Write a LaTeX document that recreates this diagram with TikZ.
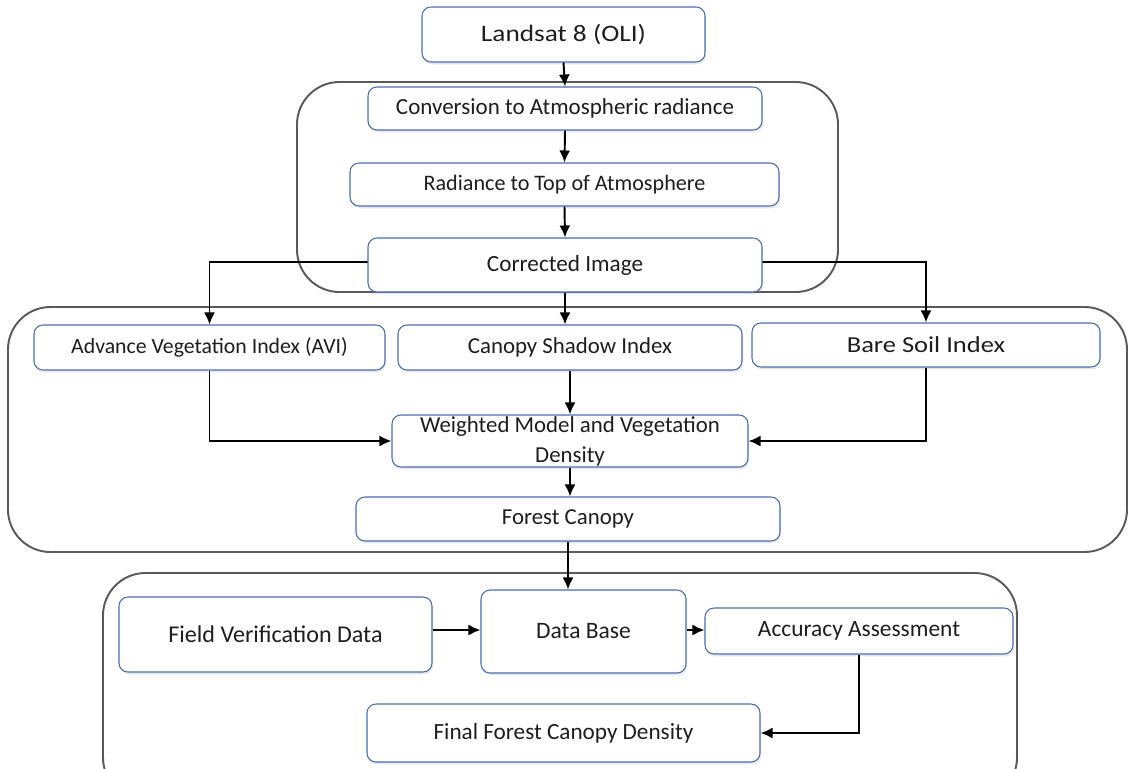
\documentclass[tikz,border=0pt]{standalone}
\usepackage{fontspec}
\setmainfont{Carlito}
\newfontfamily\widefont[FakeStretch=1.16]{Carlito}
\usetikzlibrary{arrows.meta,calc,shadows}
\definecolor{boxblue}{HTML}{4A6DB0}
\definecolor{grpgray}{HTML}{5A5A5A}
\definecolor{txt}{HTML}{1E1E1E}
\newcommand{\fs}[1]{\fontsize{#1}{17}\selectfont}
% \bx[options]{name}{x1}{y1}{x2}{y2}{text}
\newcommand{\bx}[7][]{%
  \pgfmathsetmacro{\bxw}{(#5-#3)*0.02}%
  \pgfmathsetmacro{\bxh}{(#6-#4)*0.02}%
  \node[box, minimum width=\bxw cm, minimum height=\bxh cm, #1] (#2) at ({(#3+#5)/2},{(#4+#6)/2}) {#7};}
\begin{document}
\begin{tikzpicture}[x=0.02cm,y=-0.02cm,
  box/.style={draw=boxblue, line width=0.6pt, rounded corners=0.18cm, fill=white,
    drop shadow={opacity=0.18, shadow xshift=0.6pt, shadow yshift=-1.4pt},
    inner sep=0pt, align=center, text=txt, font=\fontsize{13}{15.5}\selectfont},
  grp/.style={draw=grpgray, line width=1.1pt, rounded corners=0.85cm},
  arr/.style={draw=black, line width=1.1pt, -{Latex[length=0.24cm,width=0.22cm]}}]
\useasboundingbox (0,0) rectangle (1129,768);
% groups
\draw[grp] (297,82) rectangle (838,292);
\draw[grp] (8,307) rectangle (1127,552);
\draw[grp] (103,573) rectangle (1017,800);
% boxes
\bx[font=\widefont\fs{13.4}]{landsat}{422}{7}{705}{62}{Landsat 8 (OLI)}
\bx[font=\fs{13.1}]{conv}{368}{87}{762}{130}{Conversion to Atmospheric radiance}
\bx[font=\fs{12.6}]{rad}{350}{163}{779}{206}{Radiance to Top of Atmosphere}
\bx[font=\fs{12.4}]{avi}{34}{325}{385}{370}{Advance Vegetation Index (AVI)}
\bx[font=\fs{13}]{csi}{398}{325}{742}{370}{Canopy Shadow Index}
\bx[font=\widefont\fs{13}]{bsi}{752}{323}{1100}{367}{Bare Soil Index}
\bx[font=\fs{13}]{wm}{392}{415}{748}{467}{Weighted Model and Vegetation\\Density}
\bx[font=\fs{13}]{fc}{356}{497}{780}{541}{Forest Canopy}
\bx[font=\fs{13.7}]{fv}{119}{597}{432}{672}{Field Verification Data}
\bx[font=\fs{13.4}]{db}{481}{590}{686}{673}{Data Base}
\bx[font=\fs{13.3}]{acc}{705}{608}{1013}{654}{Accuracy Assessment}
\bx[font=\fs{13.2}]{final}{367}{704}{760}{762}{Final Forest Canopy Density}
% connectors behind corrected image
\coordinate (split) at (565,262);
\draw[arr] (split) -| (avi.north);
\draw[arr] (split) -| (bsi.north);
\bx[font=\fs{13.2}]{corr}{368}{238}{762}{292}{Corrected Image}
% connectors
\draw[arr] (landsat.south) -- (conv.north);
\draw[arr] (conv.south) -- (rad.north);
\draw[arr] (rad.south) -- (corr.north);
\draw[arr] (corr.south) -- (corr.south |- csi.north);
\draw[arr] (csi.south) -- (csi.south |- wm.north);
\draw[arr] (avi.south) |- (wm.west);
\draw[arr] (bsi.south) |- (wm.east);
\draw[arr] (wm.south) -- (wm.south |- fc.north);
\draw[arr] (fc.south) -- (fc.south |- db.north);
\draw[arr] (fv.east |- 0,630) -- (db.west |- 0,630);
\draw[arr] (db.east |- 0,630) -- (acc.west |- 0,630);
\draw[arr] (acc.south) |- (final.east);
\end{tikzpicture}
\end{document}
